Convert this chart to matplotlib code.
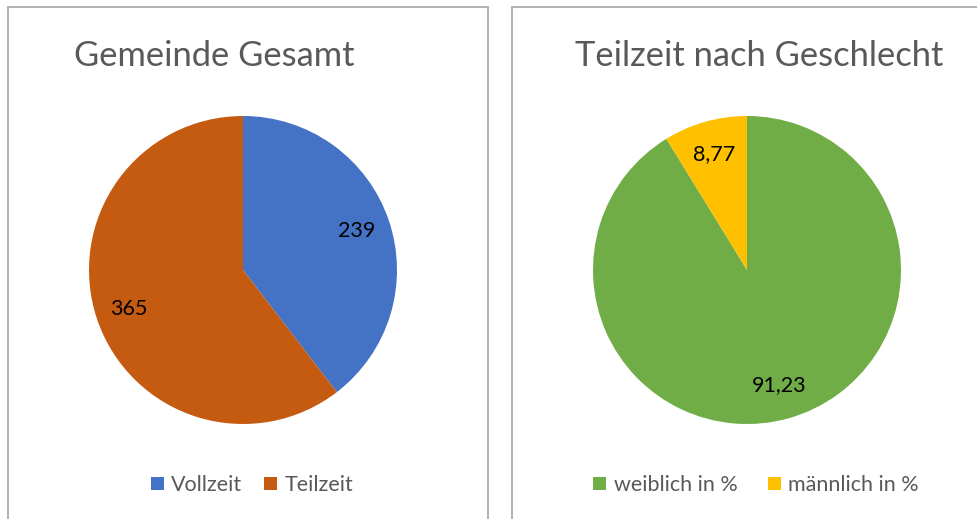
import matplotlib.pyplot as plt
from matplotlib.patches import Rectangle

plt.rcParams['font.family'] = ['Lato', 'DejaVu Sans']

# data
left_title = 'Gemeinde Gesamt'
left_labels = ['Vollzeit', 'Teilzeit']
left_values = [239, 365]
left_colors = ['#4472C4', '#C55A11']

right_title = 'Teilzeit nach Geschlecht'
right_labels = ['weiblich in %', 'männlich in %']
right_values = [91.23, 8.77]
right_colors = ['#70AD47', '#FFC000']

W, H = 978, 519
fig = plt.figure(figsize=(W / 100, H / 100), dpi=100)
gray = '#595959'


def fx(px):
    return px / W


def fy(py):
    return 1 - py / H


def fmt_label(v):
    if float(v).is_integer():
        return '{:d}'.format(int(v))
    return '{:.2f}'.format(v).replace('.', ',')


def draw_chart(cx, title, title_x, labels, values, colors, legend_x, colspace):
    r = 154
    ax = fig.add_axes([fx(cx - r), fy(270 + r), fx(2 * r), 2 * r / H])
    vals = list(values)
    it = iter(vals)
    wedges, _, autotexts = ax.pie(vals, colors=colors, startangle=90, counterclock=False,
                                  radius=1, pctdistance=0.78,
                                  autopct=lambda p: fmt_label(next(it)),
                                  wedgeprops=dict(linewidth=0),
                                  textprops=dict(fontsize=15.5, color='black'))
    ax.set_xlim(-1, 1)
    ax.set_ylim(-1, 1)
    ax.set_aspect('equal')
    ax.axis('off')
    fig.text(fx(title_x), fy(66), title, ha='center', va='baseline',
             fontsize=24.8, color=gray)
    leg = fig.legend(wedges, labels, loc='center', bbox_to_anchor=(fx(legend_x), fy(485)),
                     ncol=2, frameon=False, handlelength=0.6, handleheight=0.6,
                     handletextpad=0.35, columnspacing=colspace, fontsize=15.5)
    for t in leg.get_texts():
        t.set_color(gray)


draw_chart(243, left_title, 214, left_labels, left_values, left_colors, 252, 1.0)
draw_chart(747, right_title, 759, right_labels, right_values, right_colors, 756, 1.4)

# chart borders
border = '#ABABAB'
fig.add_artist(Rectangle((fx(8), fy(530)), fx(480), (530 - 7) / H, transform=fig.transFigure,
                         fill=False, edgecolor=border, linewidth=1.3))
fig.add_artist(Rectangle((fx(512), fy(530)), fx(500), (530 - 7) / H, transform=fig.transFigure,
                         fill=False, edgecolor=border, linewidth=1.3))

fig.savefig('out.png', dpi=100, facecolor='white')
